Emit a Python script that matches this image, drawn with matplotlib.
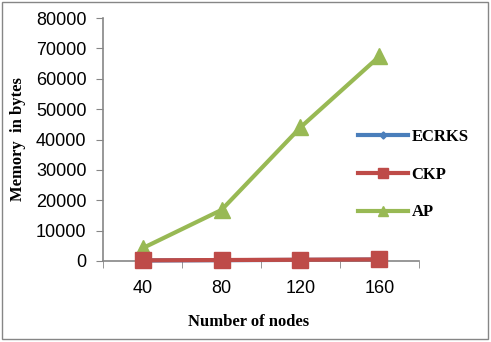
import matplotlib
matplotlib.use("Agg", force=True)
import matplotlib.pyplot as plt
from matplotlib.patches import Rectangle

nodes = ["40", "80", "120", "160"]
ecrks = [150, 250, 350, 450]
ckp = [200, 300, 400, 500]
ap = [4200, 16800, 44000, 67400]

fig = plt.figure(figsize=(4.91, 3.42), dpi=100)
ax = fig.add_axes([0.21, 0.237, 0.643, 0.71])

x = list(range(len(nodes)))
ax.plot(x, ecrks, color="#4a7ebb", lw=3, marker="D", ms=6, label="ECRKS", clip_on=False)
ax.plot(x, ckp, color="#be4b48", lw=3, marker="s", ms=11, label="CKP", clip_on=False, zorder=3)
ax.plot(x, ap, color="#98b954", lw=3, marker="^", ms=12, label="AP", clip_on=False, zorder=2)

ax.set_xlim(-0.5, len(nodes) - 0.5)
ax.set_ylim(0, 80000)
ax.set_yticks(range(0, 80001, 10000))
ax.set_xticks(x, labels=nodes)
ax.set_xticks([i - 0.5 for i in range(len(nodes) + 1)], minor=True)
ax.tick_params(axis="x", which="major", length=0, pad=14)
ax.tick_params(axis="x", which="minor", length=5, color="#868686", direction="out")
ax.tick_params(axis="y", length=5, color="#868686", pad=7)
for lab in ax.get_xticklabels() + ax.get_yticklabels():
    lab.set_fontfamily("Liberation Sans")
    lab.set_fontsize(13)

for side in ("top", "right"):
    ax.spines[side].set_visible(False)
for side in ("left", "bottom"):
    ax.spines[side].set_color("#868686")
    ax.spines[side].set_linewidth(1.2)

ax.set_xlabel("Number of nodes", family="Liberation Serif", weight="bold", fontsize=12)
ax.xaxis.set_label_coords(0.46, -0.22)
ax.set_ylabel("Memory  in bytes", family="Liberation Serif", weight="bold", fontsize=12)
ax.yaxis.set_label_coords(-0.245, 0.5)

leg = ax.legend(loc="center left", bbox_to_anchor=(0.76, 0.355), frameon=False,
                prop={"family": "Liberation Serif", "weight": "bold", "size": 12},
                handlelength=3, handletextpad=0.2, labelspacing=1.3, markerscale=0.6)

fig.patches.append(Rectangle((0.004, 0.01), 0.99, 0.983, transform=fig.transFigure,
                             fill=False, edgecolor="#868686", lw=1))

fig.savefig("out.png", dpi=100)
